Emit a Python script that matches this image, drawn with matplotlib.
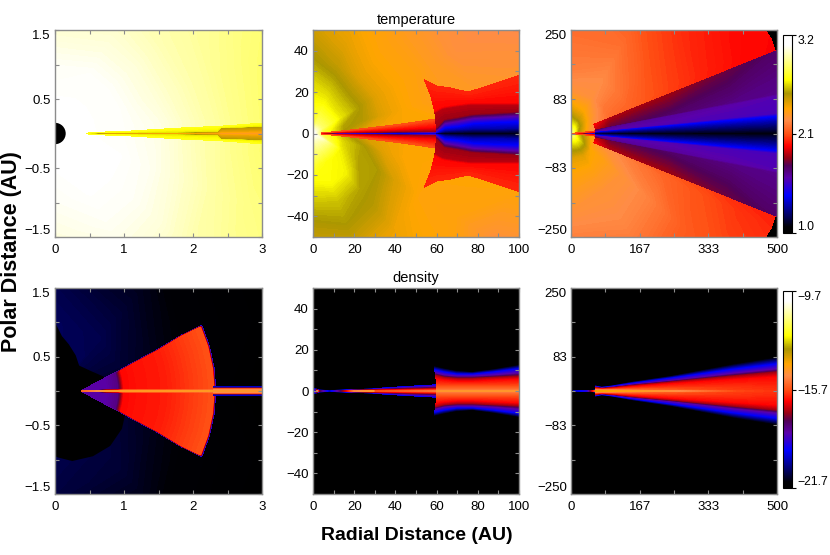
import numpy as np
import matplotlib
matplotlib.use("Agg")
import matplotlib.pyplot as plt
from matplotlib.colors import LinearSegmentedColormap, Normalize
from matplotlib.cm import ScalarMappable
from matplotlib.patches import Circle

plt.rcParams['font.family'] = ['Liberation Sans', 'DejaVu Sans']

# ---------- colour scale ----------
CM_POS = [0, .03, .19, .28, .34, .38, .44, .50, .57, .63, .706, .773, .95, 1]
CM_COL = ['#000000', '#000005', '#0000ff', '#5a00aa', '#500058', '#960014', '#ff0000',
          '#ff5014', '#ff8c46', '#ffa500', '#aa9600', '#ffff00', '#ffffff', '#ffffff']
cmap = LinearSegmentedColormap.from_list('idl', list(zip(CM_POS, CM_COL)), N=512)
T_RANGE = (1.0, 3.2)
D_RANGE = (-21.7, -9.7)

# ---------- temperature, 0-3 AU ----------
STAR_R = 0.155
t1_r = [.15, .5, 1, 1.5, 2, 2.5, 3, 3.5]
t1_th = [-90, -60, -40, -20, -5, 0, 5, 20, 40, 60, 90]
t1_v = [
    [3.09, 3.09, 3.07, 3.04, 3.02, 3.00, 2.98, 2.96],
    [3.09, 3.09, 3.09, 3.07, 3.04, 3.01, 2.98, 2.96],
    [3.09, 3.09, 3.09, 3.07, 3.03, 2.97, 2.94, 2.92],
    [3.09, 3.09, 3.09, 3.06, 3.00, 2.94, 2.90, 2.88],
    [3.09, 3.09, 3.08, 3.05, 2.98, 2.92, 2.87, 2.84],
    [3.09, 3.09, 3.08, 3.05, 2.98, 2.92, 2.87, 2.84],
    [3.09, 3.09, 3.08, 3.05, 2.98, 2.92, 2.87, 2.84],
    [3.09, 3.09, 3.08, 3.03, 2.97, 2.92, 2.88, 2.85],
    [3.09, 3.09, 3.08, 3.03, 2.97, 2.94, 2.92, 2.90],
    [3.09, 3.09, 3.08, 3.03, 2.99, 2.97, 2.95, 2.92],
    [3.09, 3.09, 3.07, 3.02, 3.00, 2.98, 2.96, 2.94],
]
t1d_r = [.45, .6, .8, 1, 2, 2.35, 2.4, 3, 3.4]
t1d_z = [
    [0, .002, .003, .004, .005],
    [0, .003, .006, .008, .015],
    [0, .006, .012, .014, .025],
    [0, .006, .012, .014, .030],
    [0, .010, .020, .024, .090],
    [0, .015, .030, .034, .100],
    [0, .030, .080, .084, .105],
    [0, .040, .100, .104, .150],
    [0, .050, .115, .120, .170],
]
t1d_v = [2.30, 2.42, 2.52, 2.66, 2.73]

# ---------- temperature, 0-100 AU ----------
t2_r = [.5, 5, 15, 25, 35, 45, 60, 80, 100, 120]
t2_th = [-90, -70, -50, -30, -15, -5, 0, 5, 15, 30, 50, 70, 90]
t2_v = [
    [3.09, 2.93, 2.78, 2.68, 2.60, 2.53, 2.44, 2.39, 2.37, 2.36],
    [3.09, 2.95, 2.72, 2.70, 2.61, 2.56, 2.46, 2.39, 2.37, 2.36],
    [3.09, 2.95, 2.70, 2.68, 2.57, 2.53, 2.42, 2.39, 2.37, 2.36],
    [3.09, 3.00, 2.68, 2.57, 2.56, 2.46, 2.37, 2.36, 2.28, 2.25],
    [3.09, 2.82, 2.64, 2.56, 2.44, 2.39, 2.38, 2.38, 2.38, 2.38],
    [3.09, 2.78, 2.60, 2.46, 2.42, 2.39, 2.39, 2.39, 2.39, 2.39],
    [3.09, 2.78, 2.55, 2.44, 2.40, 2.39, 2.39, 2.39, 2.39, 2.39],
    [3.09, 2.78, 2.55, 2.44, 2.40, 2.39, 2.39, 2.39, 2.39, 2.39],
    [3.09, 2.78, 2.57, 2.53, 2.44, 2.39, 2.34, 2.32, 2.30, 2.30],
    [3.09, 2.86, 2.67, 2.56, 2.44, 2.39, 2.35, 2.27, 2.25, 2.20],
    [3.09, 2.86, 2.67, 2.56, 2.44, 2.39, 2.35, 2.29, 2.25, 2.20],
    [3.09, 2.86, 2.70, 2.60, 2.50, 2.44, 2.39, 2.36, 2.32, 2.30],
    [3.09, 2.78, 2.70, 2.64, 2.56, 2.50, 2.44, 2.40, 2.36, 2.34],
]
t2i_r = [4, 10, 30, 45, 59.9]
t2i_z = [
    [0, .05, .1, .2, .3],
    [0, .1, .3, .6, .8],
    [0, .2, .7, 1.6, 3],
    [0, .3, .9, 2.4, 4.8],
    [0, .4, 1.2, 3.2, 7],
]
t2i_v = [1.35, 1.42, 1.84, 1.97, 2.10]
t2o_r = [60, 64, 70, 78, 88, 104, 120]
t2o_z = [
    [0, .3, .7, 1.5, 3, 10, 11, 18.5, 26],
    [0, 1.5, 3, 5, 7, 12, 13, 18, 23],
    [0, 2, 3.5, 6, 8, 13, 14, 18, 22],
    [0, 2.5, 5, 7.5, 9.5, 14, 15, 17.5, 20],
    [0, 2.5, 5.5, 8, 10, 14, 15, 19, 23],
    [0, 3, 6, 9, 11, 14, 15, 21.5, 28],
    [0, 3.5, 7, 10.5, 13, 16, 17.5, 25, 33],
]
t2o_v = [1.07, 1.30, 1.42, 1.62, 1.84, 1.88, 1.97, 2.00, 2.03]

# ---------- temperature, 0-500 AU ----------
t3_r = [2, 20, 40, 60, 100, 150, 250, 350, 450, 537]
t3_th = [-90, -60, -40, -25, -10, 10, 25, 40, 60, 90]
t3_v = [
    [2.90, 2.68, 2.56, 2.44, 2.37, 2.32, 2.22, 2.18, 2.14, 2.12],
    [2.90, 2.70, 2.57, 2.44, 2.36, 2.29, 2.24, 2.17, 2.12, 2.10],
    [2.90, 2.70, 2.56, 2.39, 2.35, 2.29, 2.22, 2.13, 2.10, 2.08],
    [2.85, 2.64, 2.49, 2.32, 2.27, 2.22, 2.15, 2.10, 2.05, 2.03],
    [2.80, 2.60, 2.45, 2.30, 2.20, 2.10, 2.05, 2.00, 1.97, 1.97],
    [2.80, 2.50, 2.35, 2.20, 2.10, 2.10, 2.05, 2.00, 1.97, 1.97],
    [2.85, 2.55, 2.39, 2.27, 2.17, 2.15, 2.08, 2.02, 1.98, 1.97],
    [2.90, 2.61, 2.44, 2.32, 2.20, 2.19, 2.10, 2.04, 2.00, 1.98],
    [2.90, 2.67, 2.49, 2.39, 2.27, 2.25, 2.17, 2.10, 2.05, 2.03],
    [2.90, 2.70, 2.56, 2.44, 2.29, 2.22, 2.17, 2.17, 2.13, 2.10],
]
t3i_r = [3, 30, 59.5]
t3i_th = [0, 1.0, 2.5, 6]
t3i_v = [
    [1.2, 1.84, 1.97, 2.1],
    [1.1, 1.5, 1.9, 2.1],
    [1.1, 1.42, 1.84, 2.05],
]
t3o_r = [60, 100, 250, 400, 537]
t3o_th = [0, 3.4, 4.9, 5.7, 10.4, 11, 21.8]
t3o_v = [
    [1.10, 1.30, 1.42, 1.60, 1.80, 1.90, 1.97],
    [1.07, 1.30, 1.42, 1.60, 1.66, 1.78, 1.86],
    [1.07, 1.30, 1.42, 1.60, 1.64, 1.72, 1.84],
    [1.07, 1.30, 1.42, 1.58, 1.62, 1.68, 1.78],
    [1.07, 1.30, 1.42, 1.58, 1.60, 1.66, 1.72],
]

# ---------- density, 0-3 AU ----------
d1_r = [.1, 1, 1.5, 2, 2.5, 3, 3.5]
d1_th = [-90, -50, -20, 0, 20, 50, 90]
d1_v = [
    [-20.8, -20.8, -20.9, -21.1, -21.3, -21.4, -21.5],
    [-20.8, -20.9, -21.0, -21.2, -21.4, -21.5, -21.6],
    [-21.0, -21.0, -21.2, -21.4, -21.5, -21.6, -21.7],
    [-21.1, -21.2, -21.4, -21.5, -21.6, -21.7, -21.7],
    [-21.0, -21.0, -21.2, -21.4, -21.5, -21.6, -21.7],
    [-20.7, -20.8, -21.0, -21.2, -21.4, -21.5, -21.6],
    [-20.7, -20.7, -20.8, -21.0, -21.2, -21.4, -21.5],
]
d1_hole_x = [0, .1, .2, .3, .35, .5, .75, .95, 1.02, .97, .8, .55, .25, .05, 0]
d1_hole_z = [1.0, .8, .68, .52, .37, .3, .19, -.05, -.33, -.55, -.8, -.95, -1.02, -.97, -.95]
d1w_r = [.38, .75, .92, 1.0, 1.2, 1.6, 2.0, 2.3, 2.33]
d1w_z = [
    [0, .0005, .001, .0015, .002, .0025, .003],
    [0, .01, .02, .07, .13, .175, .19],
    [0, .01, .02, .09, .18, .255, .27],
    [0, .01, .02, .10, .20, .295, .31],
    [0, .01, .02, .13, .27, .395, .41],
    [0, .01, .02, .20, .40, .585, .60],
    [0, .01, .02, .27, .54, .795, .81],
    [0, .01, .02, .32, .64, .925, .94],
    [0, .01, .02, .32, .64, .945, .96],
]
d1w_v = [
    [-15.5, -16.0, -18.3, -18.3, -18.3, -18.3, -18.3],
    [-14.5, -16.0, -18.3, -18.3, -18.3, -18.3, -18.4],
    [-14.5, -15.5, -18.0, -18.0, -18.0, -18.0, -18.2],
    [-14.5, -15.2, -16.4, -16.4, -16.4, -16.4, -18.8],
    [-14.5, -15.2, -16.3, -16.3, -16.3, -16.3, -18.8],
    [-14.5, -15.2, -16.2, -16.2, -16.2, -16.2, -18.8],
    [-14.5, -15.2, -15.9, -15.9, -15.9, -15.9, -18.8],
    [-14.5, -15.0, -15.7, -15.7, -15.7, -15.7, -18.8],
    [-19.0, -19.0, -19.2, -19.2, -19.2, -19.2, -19.4],
]
d1d_r = [2.3, 3.4]
d1d_z = [[0, .02, .035, .05, .065], [0, .02, .035, .05, .065]]
d1d_v = [-14.6, -15.0, -16.0, -19.0, -20.5]

# ---------- density, 0-100 AU ----------
d2i_r = [1, 2, 3, 8, 12, 20, 29, 30, 45, 59.5]
d2i_z = [
    [0, .4, .8, 1.5],
    [0, .3, .6, 1.0],
    [0, .3, .5, .7],
    [0, .2, .35, .5],
    [0, .2, .4, .6],
    [0, .25, .5, .8],
    [0, .3, .7, 1.1],
    [0, .3, .7, 1.2],
    [0, .5, 1.3, 2.2],
    [0, .7, 1.8, 3.0],
]
d2i_v = [
    [-20.5, -20.0, -19.4, -21.3],
    [-15.0, -16.0, -18.0, -21.3],
    [-17.5, -19.0, -20.5, -21.7],
    [-20.0, -20.8, -21.4, -21.7],
    [-18.3, -19.5, -20.5, -21.7],
    [-15.0, -16.4, -18.0, -21.0],
    [-14.5, -16.0, -18.0, -21.0],
    [-15.8, -16.2, -18.0, -20.0],
    [-15.5, -16.3, -18.0, -19.8],
    [-15.2, -16.3, -18.0, -19.6],
]
d2o_r = [60, 64, 70, 78, 88, 100, 115]
d2o_z = [
    [0, .5, 2.5, 5.5, 7.5, 8.5, 10, 12],
    [0, .5, 2.5, 5, 6.5, 7.5, 9, 11],
    [0, .5, 2.5, 4.5, 6, 7, 8, 9.8],
    [0, .5, 2.5, 4.5, 6, 7, 8, 9.2],
    [0, .5, 2.5, 5, 6.5, 7.5, 9, 10.5],
    [0, .5, 2.5, 5.5, 7, 8.5, 10.5, 12.5],
    [0, .5, 3, 6, 8, 10, 12.5, 15],
]
d2o_v = [-14.6, -15.2, -15.8, -16.4, -17.1, -18.3, -19.4, -21.5]

# ---------- density, 0-500 AU ----------
d3i_r = [5, 40, 50, 59]
d3i_z = [
    [0, .5, 1, 1.5],
    [0, .5, 1, 1.5],
    [0, .7, 1.4, 2.2],
    [0, 1, 2, 3],
]
d3i_v = [
    [-20.0, -21.0, -21.5, -21.7],
    [-19.0, -20.0, -21.0, -21.7],
    [-17.0, -18.0, -20.0, -21.7],
    [-15.5, -16.5, -19.0, -21.5],
]
d3o_r = [60, 75, 100, 150, 250, 400, 500, 525]
d3o_z = [
    [0, 1, 3, 6, 8, 9, 11, 13],
    [0, 1, 3, 5, 6, 7, 8, 10],
    [0, 1, 3, 6, 8, 9, 11, 13],
    [0, 1, 4, 10, 13, 15, 18, 22],
    [0, 1, 6, 17, 22, 25, 31, 37],
    [0, 1, 10, 27, 36, 42, 52, 65],
    [0, 1, 12, 33, 45, 52, 64, 81],
    [0, 1, 13, 35, 47, 55, 67, 85],
]
d3o_v = [
    [-14.0, -14.4, -15.2, -16.4, -17.1, -18.3, -19.4, -21.5],
    [-14.1, -14.5, -15.3, -16.4, -17.1, -18.3, -19.4, -21.5],
    [-14.2, -14.5, -15.3, -16.4, -17.1, -18.3, -19.4, -21.5],
    [-14.4, -15.0, -15.6, -16.4, -17.1, -18.3, -19.4, -21.5],
    [-14.8, -15.5, -15.8, -16.4, -17.1, -18.3, -19.4, -21.5],
    [-15.8, -15.9, -16.0, -16.4, -17.1, -18.3, -19.4, -21.5],
    [-16.0, -16.0, -16.1, -16.4, -17.1, -18.3, -19.4, -21.5],
    [-16.0, -16.0, -16.1, -16.4, -17.1, -18.3, -19.4, -21.5],
]

# ---------- axes text ----------
x_ticks = [[0, .5, 1, 1.5, 2, 2.5, 3], list(range(0, 101, 10)), [0, 83.3, 166.7, 250, 333.3, 416.7, 500]]
x_labels = [['0', '', '1', '', '2', '', '3'],
            ['0', '', '20', '', '40', '', '60', '', '80', '', '100'],
            ['0', '', '167', '', '333', '', '500']]
y_ticks = [[-1.5, -1, -.5, 0, .5, 1, 1.5], list(range(-50, 51, 10)), [-250, -166.7, -83.3, 0, 83.3, 166.7, 250]]
y_labels = [['\u22121.5', '', '\u22120.5', '', '0.5', '', '1.5'],
            ['', '\u221240', '', '\u221220', '', '0', '', '20', '', '40', ''],
            ['\u2212250', '', '\u221283', '', '83', '', '250']]
x_lims = [(0, 3), (0, 100), (0, 500)]
y_lims = [(-1.5, 1.5), (-50, 50), (-250, 250)]
titles = ['temperature', 'density']
t_ticks = [1.0, 2.1, 3.2]
t_tick_labels = ['1.0', '2.1', '3.2']
d_ticks = [-21.7, -15.7, -9.7]
d_tick_labels = ['\u221221.7', '\u221215.7', '\u22129.7']

W, H = 830, 555
fig = plt.figure(figsize=(W / 100, H / 100), dpi=100)


def px_axes(l, t, r, b):
    return fig.add_axes([l / W, 1 - b / H, (r - l) / W, (b - t) / H])


def fill(ax, X, Z, V, rng):
    V = np.asarray(V, float)
    ax.contourf(X, Z, V, levels=np.linspace(rng[0], rng[1], 257), cmap=cmap,
                norm=Normalize(*rng), extend='both')


def polar(ax, r, th, v, rng):
    R, TH = np.meshgrid(np.asarray(r, float), np.radians(th), indexing='xy')
    fill(ax, R * np.cos(TH), R * np.sin(TH), v, rng)


def mirror(a):
    a = np.asarray(a, float)
    return np.hstack([a[:, :0:-1], a])


def disc(ax, r, z, v, rng):
    z = np.asarray(z, float)
    r = np.asarray(r, float)
    v = np.asarray(v, float)
    if v.ndim == 1:
        v = np.tile(v, (len(r), 1))
    x = np.sqrt(np.maximum(r[:, None] ** 2 - z ** 2, 0))
    Zf = np.hstack([-z[:, :0:-1], z])
    Xf = np.hstack([x[:, :0:-1], x])
    fill(ax, Xf, Zf, mirror(v), rng)


def disc_th(ax, r, th, v, rng):
    r = np.asarray(r, float)
    z = r[:, None] * np.sin(np.radians(th))
    disc(ax, r, z, v, rng)


lefts = [(55, 262), (313, 519), (571, 777)]
rows = [(30, 237), (288, 494)]
axes = [[px_axes(l, t, r, b) for (l, r) in lefts] for (t, b) in rows]

for row in axes:
    for i, ax in enumerate(row):
        ax.set_facecolor('black')

a = axes[0]
polar(a[0], t1_r, t1_th, t1_v, T_RANGE)
disc(a[0], t1d_r, t1d_z, t1d_v, T_RANGE)
polar(a[1], t2_r, t2_th, t2_v, T_RANGE)
disc(a[1], t2i_r, t2i_z, t2i_v, T_RANGE)
disc(a[1], t2o_r, t2o_z, t2o_v, T_RANGE)
polar(a[2], t3_r, t3_th, t3_v, T_RANGE)
disc_th(a[2], t3i_r, t3i_th, t3i_v, T_RANGE)
disc_th(a[2], t3o_r, t3o_th, t3o_v, T_RANGE)

a = axes[1]
polar(a[0], d1_r, d1_th, d1_v, D_RANGE)
a[0].fill(d1_hole_x, d1_hole_z, color='black', lw=0, zorder=1.5)
for coll_r, coll_z, coll_v in [(d1w_r, d1w_z, d1w_v), (d1d_r, d1d_z, d1d_v)]:
    disc(a[0], coll_r, coll_z, coll_v, D_RANGE)
disc(a[1], d2i_r, d2i_z, d2i_v, D_RANGE)
disc(a[1], d2o_r, d2o_z, d2o_v, D_RANGE)
disc(a[2], d3i_r, d3i_z, d3i_v, D_RANGE)
disc(a[2], d3o_r, d3o_z, d3o_v, D_RANGE)

for row in axes:
    for i, ax in enumerate(row):
        for c in ax.collections:
            c.set_zorder(2)
        for p in ax.patches:
            p.set_zorder(2)
        ax.set_xlim(*x_lims[i])
        ax.set_ylim(*y_lims[i])
        ax.set_xticks(x_ticks[i], x_labels[i])
        ax.set_yticks(y_ticks[i], y_labels[i])
        ax.tick_params(direction='in', length=3, width=.8, color='#8c8c8c', top=True, right=True,
                       labelsize=9.5, labelcolor='black')
        ax.tick_params(axis='x', pad=5)
        ax.tick_params(axis='y', pad=3)
        for s in ax.spines.values():
            s.set_color('#8c8c8c')
            s.set_linewidth(1.0)
            s.set_zorder(5)
        ax.set_axisbelow(False)
        if i != 1:
            ylabs = ax.get_yticklabels()
            ylabs[0].set_va('bottom')
            ylabs[-1].set_va('top')

# draw order in the lower-left panel: navy field, black hole, then wedge
lower_left = axes[1][0]
colls = list(lower_left.collections)
colls[0].set_zorder(1)
for p in lower_left.patches:
    p.set_zorder(1.5)

axes[0][0].add_patch(Circle((0, 0), STAR_R, color='black', lw=0, zorder=3))

for (t, b), rng, ticks, labs in [((35, 233), T_RANGE, t_ticks, t_tick_labels),
                                 ((291, 488), D_RANGE, d_ticks, d_tick_labels)]:
    cax = px_axes(783, t, 792, b)
    cb = fig.colorbar(ScalarMappable(Normalize(*rng), cmap), cax=cax)
    cb.set_ticks(ticks, labels=labs)
    cb.ax.tick_params(length=3, width=.8, color='black', labelsize=8.8, pad=1)
    cb.outline.set_edgecolor('black')
    cb.outline.set_linewidth(.8)
    clabs = cb.ax.get_yticklabels()
    clabs[0].set_va('bottom')
    clabs[-1].set_va('top')

fig.text(416 / W, 1 - 20 / H, titles[0], ha='center', va='center', fontsize=10.5)
fig.text(416 / W, 1 - 278 / H, titles[1], ha='center', va='center', fontsize=10.5)
fig.text(12 / W, 1 - 252 / H, 'Polar Distance (AU)', rotation=90, ha='center', va='center',
         fontsize=15.5, fontweight='bold')
fig.text(417 / W, 1 - 535 / H, 'Radial Distance (AU)', ha='center', va='center',
         fontsize=14, fontweight='bold')

fig.savefig('out.png', dpi=100)
